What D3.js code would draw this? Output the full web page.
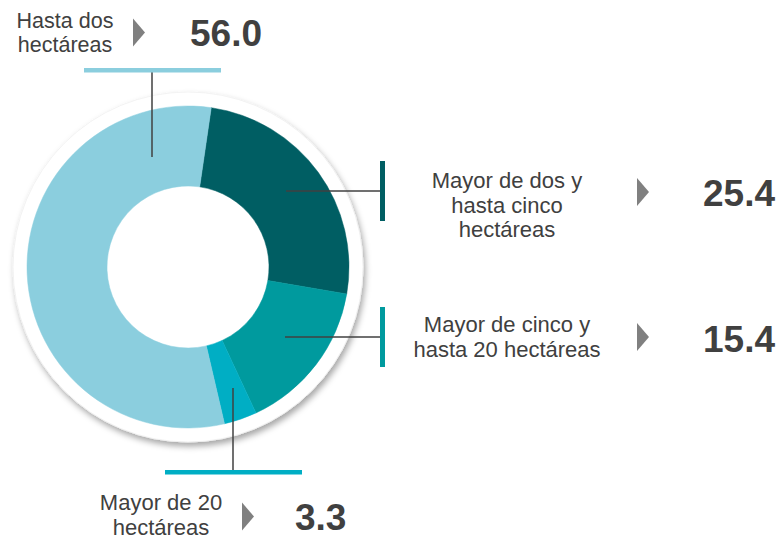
<!DOCTYPE html>
<html>
<head>
<meta charset="utf-8">
<script src="https://cdn.jsdelivr.net/npm/d3@7"></script>
<style>
  body { margin: 0; background: #fff; }
  svg { display: block; font-family: "Liberation Sans", Arial, sans-serif; }
</style>
</head>
<body>
<svg id="chart" width="780" height="539"></svg>
<script>
// data, in drawing order (clockwise from the top)
let categories = ["Mayor de dos y hasta cinco hectáreas", "Mayor de cinco y hasta 20 hectáreas", "Mayor de 20 hectáreas", "Hasta dos hectáreas"]
let values = [25.4, 15.4, 3.3, 56.0]
let labelLines = [
    ["Mayor de dos y", "hasta cinco", "hectáreas"],
    ["Mayor de cinco y", "hasta 20 hectáreas"],
    ["Mayor de 20", "hectáreas"],
    ["Hasta dos", "hectáreas"]
]
let colors = ["#005e63", "#009a9e", "#00aec4", "#8bcede"]

// layout of the callouts (not data)
let layout = [
    { label: [507, 188, 24.5, 22], num: [703, 206], tri: [637, 192], line: [[286, 191], [380, 191]], bar: [380, 161, 5, 60] },
    { label: [507, 332, 25, 22],   num: [703, 352], tri: [637, 337], line: [[285, 337], [380, 337]], bar: [380, 307, 5, 60] },
    { label: [161, 510, 24.5, 22], num: [295, 530], tri: [242, 516.5], line: [[233, 388], [233, 471]], bar: [165, 470, 137, 4.5] },
    { label: [65, 28, 23.5, 21.5], num: [190, 46], tri: [133, 32.5], line: [[152, 72], [152, 157]], bar: [84, 68, 137, 4.5] }
]

const cx = 188, cy = 267
const outerR = 161, innerR = 81, ringR = 175
const start = 8.3 * Math.PI / 180

let svg = d3.select("#chart")

let defs = svg.append("defs")
let shadow = defs.append("filter")
    .attr("id", "shadow")
    .attr("x", "-20%").attr("y", "-20%")
    .attr("width", "140%").attr("height", "140%")
shadow.append("feDropShadow")
    .attr("dx", 2).attr("dy", 4)
    .attr("stdDeviation", 3)
    .attr("flood-color", "#000")
    .attr("flood-opacity", 0.35)

let g = svg.append("g").attr("transform", `translate(${cx},${cy})`)

// white ring behind the donut
g.append("circle")
    .attr("r", ringR)
    .attr("fill", "#fff")
    .attr("stroke", "#f0f0f0")
    .attr("stroke-width", 0.8)
    .attr("filter", "url(#shadow)")

let pie = d3.pie()
    .sort(null)
    .value(d => d)
    .startAngle(start)
    .endAngle(start + 2 * Math.PI)

let arc = d3.arc()
    .innerRadius(innerR)
    .outerRadius(outerR)

g.selectAll("path.slice")
    .data(pie(values))
    .enter()
    .append("path")
        .attr("class", "slice")
        .attr("d", arc)
        .attr("fill", (d, i) => colors[i])
        .attr("stroke", (d, i) => colors[i])
        .attr("stroke-width", 0.5)

// callouts
let callouts = svg.selectAll("g.callout")
    .data(values)
    .enter()
    .append("g")
        .attr("class", "callout")

callouts.append("line")
    .attr("x1", (d, i) => layout[i].line[0][0])
    .attr("y1", (d, i) => layout[i].line[0][1])
    .attr("x2", (d, i) => layout[i].line[1][0])
    .attr("y2", (d, i) => layout[i].line[1][1])
    .attr("stroke", "#404040")
    .attr("stroke-width", 1.5)

callouts.append("rect")
    .attr("x", (d, i) => layout[i].bar[0])
    .attr("y", (d, i) => layout[i].bar[1])
    .attr("width", (d, i) => layout[i].bar[2])
    .attr("height", (d, i) => layout[i].bar[3])
    .attr("fill", (d, i) => colors[i])

callouts.each(function(d, i) {
    let l = layout[i]
    let t = d3.select(this).append("text")
        .attr("text-anchor", "middle")
        .attr("fill", "#404040")
        .style("font-size", l.label[3] + "px")
    labelLines[i].forEach((s, k) => {
        t.append("tspan")
            .attr("x", l.label[0])
            .attr("y", l.label[1] + k * l.label[2])
            .text(s)
    })
})

callouts.append("path")
    .attr("d", (d, i) => {
        let [x, y] = layout[i].tri
        return `M${x},${y - 14}L${x + 12},${y}L${x},${y + 14}Z`
    })
    .attr("fill", "#808080")

callouts.append("text")
    .attr("x", (d, i) => layout[i].num[0])
    .attr("y", (d, i) => layout[i].num[1])
    .attr("fill", "#404040")
    .style("font-size", "37px")
    .style("font-weight", "bold")
    .text(d => d3.format(".1f")(d))
</script>
</body>
</html>
